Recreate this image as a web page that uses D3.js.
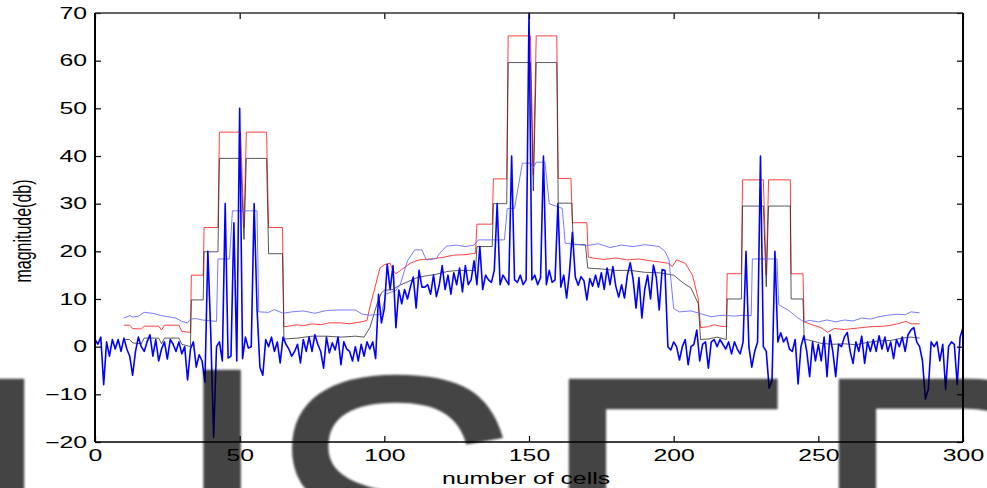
<!DOCTYPE html>
<html>
<head>
<meta charset="utf-8">
<script src="https://cdn.jsdelivr.net/npm/d3@7"></script>
<style>
body{margin:0;background:#fff;}
svg{display:block;font-family:"Liberation Sans",Arial,sans-serif;}
</style>
</head>
<body>
<svg id="chart" width="987" height="488"></svg>
<script>
var xTicks = [0, 50, 100, 150, 200, 250, 300];
var yTicks = [-20, -10, 0, 10, 20, 30, 40, 50, 60, 70];

// received signal, one value per cell (cells 0..300)
var signal = [
 1.5, 0.5, 2, -8, 1, -2, 1.5, -0.5, 1.5, -1,
 1.8, -0.5, -2, -6, -1, 2, 0, -1, 1, 2.5,
 -2, 1.5, -3, -0.5, 1, -2.6, 1.5, 0.5, -1, 1,
 -1.5, 0, -7, -0.5, 1, -4.3, -1.7, -3, -7.4, 20,
 3, -19, 0, 1, -3, 30, -2.4, -2, 26, -3,
 50, -2.5, 2, -0.3, 0, 30, 8, -4.3, -6, 1.5,
 0, 2, -1, 1, -3.4, 2, 0.5, -0.5, -2, -1,
 0.5, -3.4, 1.5, -1, 2, -1, 2.5, 0.5, -1, -4.5,
 2, -1.3, 0.8, -0.7, 2, -3.8, 1, -0.5, -1, -3,
 0, -3, 0.5, -2, 1, -0.5, 1, -2.5, 11, 5,
 8, 17.3, 12, 17, 4, 11.9, 9, 12, 10, 12.5,
 14.6, 8.1, 16, 12.5, 12.5, 13, 11, 15, 10.5, 13,
 17, 12, 15, 11, 15.5, 13, 16.5, 11.5, 17, 13,
 14, 18, 13, 21, 12, 15, 14, 13.5, 16, 30,
 13, 15, 14, 13, 40, 14, 13.5, 15, 13, 14,
 70, 14, 15, 13, 14.5, 40, 13, 16, 13.5, 14,
 30, 12.5, 15, 10.2, 15.7, 24, 14.6, 12.9, 14.7, 13.8,
 9.8, 14.3, 12.7, 15, 12.5, 15.5, 12, 16.5, 13, 16.8,
 12.7, 10.4, 13, 10.2, 15, 17.6, 14, 8.1, 14.5, 6,
 12, 15, 10, 17.1, 14.5, 7.7, 16.2, 16, 0, -0.7,
 1, 0, -2.8, 0, 1.5, -3.8, 0, 0.5, 3.5, -3,
 0.5, 1, -4.5, 1, 1.5, 0, 1.5, 0.5, -0.5, 1,
 -1.5, 1, -0.5, -1.5, 1, 20, 0, -4.3, -1, 1,
 40, 0, -1, -8.7, -7, 20, 1, 2.9, 1, 2,
 -0.5, -1, 1.5, -7.8, 0, 2.3, -1, -6.3, 1, -3,
 0.5, -3, 2, -6.3, 2.5, -1, -6.3, 0.5, 0, 2,
 3, -1, -3.5, 1, -1, 2.2, -3.5, 1, -1, 1.5,
 -1, 2.3, -0.5, 2, -1, 1, -2.5, 1.5, 0, 2,
 -1, 2.5, 3.5, 4, 1, 0, -3, -11, -9, 1,
 0, 1, -3, 0.5, -9, 0, 1, 0.5, -8, 2,
 4
];

// thresholds: [cell, dB]
var redThr = [
 [10,4.5],[12,4.5],[13,3.8],[16,3.7],[17,4.3],[22,4.3],[23,3.5],[24,4.5],[29,4.5],[30,3.2],[33,3.0],
 [33.3,15],[37.4,15],[37.7,25],[42.5,25],[43,45],[50.3,45],[51.5,25],[52.3,45],[59.3,45],[60,25],[64.8,25],[65.3,4.2],
 [67,4.3],[70,4.6],[72,4.4],[75,4.8],[78,4.6],[81,5],[85,5],[88,4.8],[92,5.2],[94,5.5],
 [95,8.3],[97,13],[98.5,16.5],[100,17.2],[102,17.5],[103,16],[104,15.3],[106,16.2],[109,17.5],[112,18.2],[116,18.4],[120,18.7],[124,19.2],[128,19.3],[131.5,19.6],
 [132,25.7],[137.3,25.7],[137.7,35.2],[142.3,35.2],[142.8,65.2],[150.5,65.2],[151.5,36],[152.5,65.2],[159.6,65.2],[160.1,35.3],[164.5,35.3],[165,26],[170,26],[170.5,18.8],
 [172,18.6],[176,18.3],[180,18.6],[184,18.2],[188,18.4],[192,18],[195,17.8],[198,17.5],[199.5,16.8],[201,18.2],[204,17.5],[206.5,15],[208.5,10],[209.3,4],
 [212,4.2],[214,4.6],[216,4.3],[218.2,4.2],
 [218.5,15.3],[223.4,15.3],[223.8,35],[231,35],[232,15],[232.8,35],[240.3,35],[240.6,15.3],[244.7,15.3],[245.1,5.2],
 [247.8,4.6],[251,4],[253.2,3],[255.5,3.8],[259,3.6],[263.6,3.9],[268.2,4.2],[272.9,4.3],[275.1,4.5],[277.4,4.8],[280.3,5.3],[282,4.8],[285,4.8]
];
var blackThr = [
 [10,1.5],[12,1.5],[13,0.8],[16,0.6],[17,1.8],[22,1.8],[23,0.6],[24,1.8],[29,1.8],[30,0.5],[33,0],
 [33.3,9.8],[37.4,9.8],[37.7,19.9],[42.5,19.9],[43,39.5],[50.3,39.5],[51.5,22.5],[52.3,39.5],[59.3,39.5],[60,19.5],[64.8,19.5],[65.3,1.6],
 [70,1.8],[75,2.2],[80,2.2],[85,2],[90,2.2],[93,2],[95,4],[97.5,9],[99,11.3],[100,11.8],[103,12],[105,12.8],[108,13.6],[111,14.4],[114,14.8],[118,15.2],[122,15.8],[126,16],[131.5,16],
 [132,21],[137.3,21],[137.7,30],[142.3,30],[142.8,59.6],[150.5,59.6],[151.5,32.7],[152.5,59.6],[159.6,59.6],[160.1,30.1],[164.8,30.1],[165.3,21.4],[169.5,21.4],[170.3,16.5],
 [175,16.3],[180,16],[185,16],[190,15.6],[195,15.5],[200,15],[203,13.5],[206,12.3],[208.5,9],[209.3,1.5],
 [212,1.6],[215,2],[218.2,1.5],
 [218.5,10],[223.4,10],[223.8,29.5],[231,29.5],[232,12.6],[232.8,29.5],[240.3,29.5],[240.6,10],[244.7,10],[245.1,1.6],
 [248,1.2],[251,0.7],[255,0.5],[259,0.6],[263,0.4],[267,0.9],[271,1.2],[275,1.3],[279,1.8],[282,2],[285,1.8]
];
var meanThr = [
 [10,6],[12,6.5],[13,6.2],[15,6.4],[17,7.2],[20,7],[23,6.5],[26,6.2],[28,6],[30,5.3],[32,5],[33,5.8],[35,5.9],[37,5.6],[42,5.3],
 [42.5,18.4],[46.5,18.4],[47.5,28.5],[56,28.5],[56.6,7.3],[60,7.2],[62,7.8],[65,7],[68,7.3],[72,7.5],[76,7],[80,7.6],[85,7.7],[90,7.7],[92.5,6.8],[95,6.6],[99,6.8],
 [100.5,11],[104,11.8],[105.5,13],[108,18],[110.5,20.3],[113,20.3],[114.5,18.2],[118,18.5],[119,19.5],[121.5,21.1],[125,21.3],[128,21],[131,21.3],[132.5,22.4],[141.5,22.4],
 [142.5,29],[145,29],[147.7,38.5],[150.5,38.5],[151.5,37.5],[152.5,38.7],[155.5,38.7],[157,30],[161.5,29],[162.5,21.7],
 [166,21.5],[170,21.2],[174,21.6],[178,20.8],[182,21.3],[186,21],[190,21.4],[195,21],[197,20],[198.4,18.2],[200,8],
 [202,7.3],[206,7.5],[210,6.8],[213,6.3],[217,6.6],[221,6.4],[224,6.6],[226.8,6.5],
 [227.2,18.4],[235.7,18.4],[236.3,8.8],[240,7.5],[243,6],[245,5.2],[247,5.5],[250,5.2],[253,5.6],[256,5.2],[259,5.6],[262,5.4],[265,6],[268,5.8],[271,6.3],[274,6.6],[277,6.8],[280,6.7],[282,7.3],[285,7.1]
];

var watermark = ["I", "J", "S", "E", "R"];

var svg = d3.select("#chart");
var mLeft = 95, mRight = 963, mTop = 13, mBottom = 442;
var sx = 1.55; // the picture is stretched sideways

var x = d3.scaleLinear().domain([0, 300]).range([mLeft, mRight]);
var y = d3.scaleLinear().domain([-20, 70]).range([mBottom, mTop]);

var line = d3.line()
    .x(function(d){ return x(d[0]); })
    .y(function(d){ return y(d[1]); });

var plot = svg.append("g");

plot.append("path")
    .datum(redThr)
    .attr("fill", "none")
    .attr("stroke", "#ff2020")
    .attr("stroke-opacity", 0.85)
    .attr("stroke-width", 1)
    .attr("d", line);

plot.append("path")
    .datum(blackThr)
    .attr("fill", "none")
    .attr("stroke", "#222")
    .attr("stroke-opacity", 0.75)
    .attr("stroke-width", 1)
    .attr("d", line);

plot.append("path")
    .datum(meanThr)
    .attr("fill", "none")
    .attr("stroke", "#6a6aff")
    .attr("stroke-opacity", 0.9)
    .attr("stroke-width", 1)
    .attr("d", line);

plot.append("path")
    .datum(signal.map(function(v, i){ return [i, v]; }))
    .attr("fill", "none")
    .attr("stroke", "#0000ff")
    .attr("stroke-width", 1.6)
    .attr("stroke-linejoin", "round")
    .attr("d", line);

// axes, matlab style: ticks inside on all four sides
function styleAxis(g){
    g.select(".domain").remove();
    g.selectAll("line").attr("stroke", "#000").attr("stroke-width", 1.2);
    g.attr("font-size", null).attr("font-family", null);
}

svg.append("g")
    .attr("transform", "translate(" + mLeft + ",0)")
    .call(d3.axisLeft(y).tickValues(yTicks).tickSizeInner(-6).tickSizeOuter(0).tickPadding(8))
    .call(styleAxis)
    .selectAll("text")
    .attr("font-size", 16)
    .attr("fill", "#000")
    .attr("x", -8 / sx)
    .attr("transform", "scale(" + sx + ",1)");

svg.append("g")
    .attr("transform", "translate(0," + mBottom + ")")
    .call(d3.axisBottom(x).tickValues(xTicks).tickSizeInner(-6).tickSizeOuter(0).tickPadding(8))
    .call(styleAxis)
    .selectAll("text")
    .attr("font-size", 16)
    .attr("fill", "#000")
    .attr("transform", "scale(" + sx + ",1)");

svg.append("g")
    .attr("transform", "translate(0," + mTop + ")")
    .call(d3.axisTop(x).tickValues(xTicks).tickSizeInner(-6).tickSizeOuter(0).tickFormat(""))
    .call(styleAxis);

svg.append("g")
    .attr("transform", "translate(" + mRight + ",0)")
    .call(d3.axisRight(y).tickValues(yTicks).tickSizeInner(-6).tickSizeOuter(0).tickFormat(""))
    .call(styleAxis);

// frame
svg.append("line").attr("x1", mLeft).attr("x2", mRight).attr("y1", mTop).attr("y2", mTop)
    .attr("stroke", "#333").attr("stroke-width", 1.5);
svg.append("line").attr("x1", mLeft).attr("x2", mRight).attr("y1", mBottom).attr("y2", mBottom)
    .attr("stroke", "#000").attr("stroke-width", 1.5);
svg.append("line").attr("x1", mLeft).attr("x2", mLeft).attr("y1", mTop).attr("y2", mBottom)
    .attr("stroke", "#000").attr("stroke-width", 2);
svg.append("line").attr("x1", mRight).attr("x2", mRight).attr("y1", mTop).attr("y2", mBottom)
    .attr("stroke", "#000").attr("stroke-width", 2);

// labels
svg.append("text")
    .attr("transform", "translate(526,484) scale(" + sx + ",1)")
    .attr("text-anchor", "middle")
    .attr("font-size", 16)
    .text("number of cells");

svg.append("text")
    .attr("transform", "translate(31,231) scale(" + sx + ",1) rotate(-90)")
    .attr("text-anchor", "middle")
    .attr("font-size", 16)
    .text("magnitude(db)");

// watermark over everything
var defs = svg.append("defs");
defs.append("filter").attr("id", "soft")
    .append("feGaussianBlur").attr("stdDeviation", 1.2);

var markX = [-50, 51, 261, 536, 806];
var markFont = ["Liberation Sans", "Roboto", "Liberation Sans", "Liberation Sans", "Liberation Sans"];
svg.append("g")
    .attr("opacity", 0.73)
    .attr("filter", "url(#soft)")
    .selectAll("text")
    .data(watermark)
    .join("text")
    .attr("x", function(d, i){ return markX[i]; })
    .attr("y", 654)
    .attr("font-size", 400)
    .attr("font-family", function(d, i){ return markFont[i]; })
    .attr("fill", "#000")
    .text(function(d){ return d; });
</script>
</body>
</html>
